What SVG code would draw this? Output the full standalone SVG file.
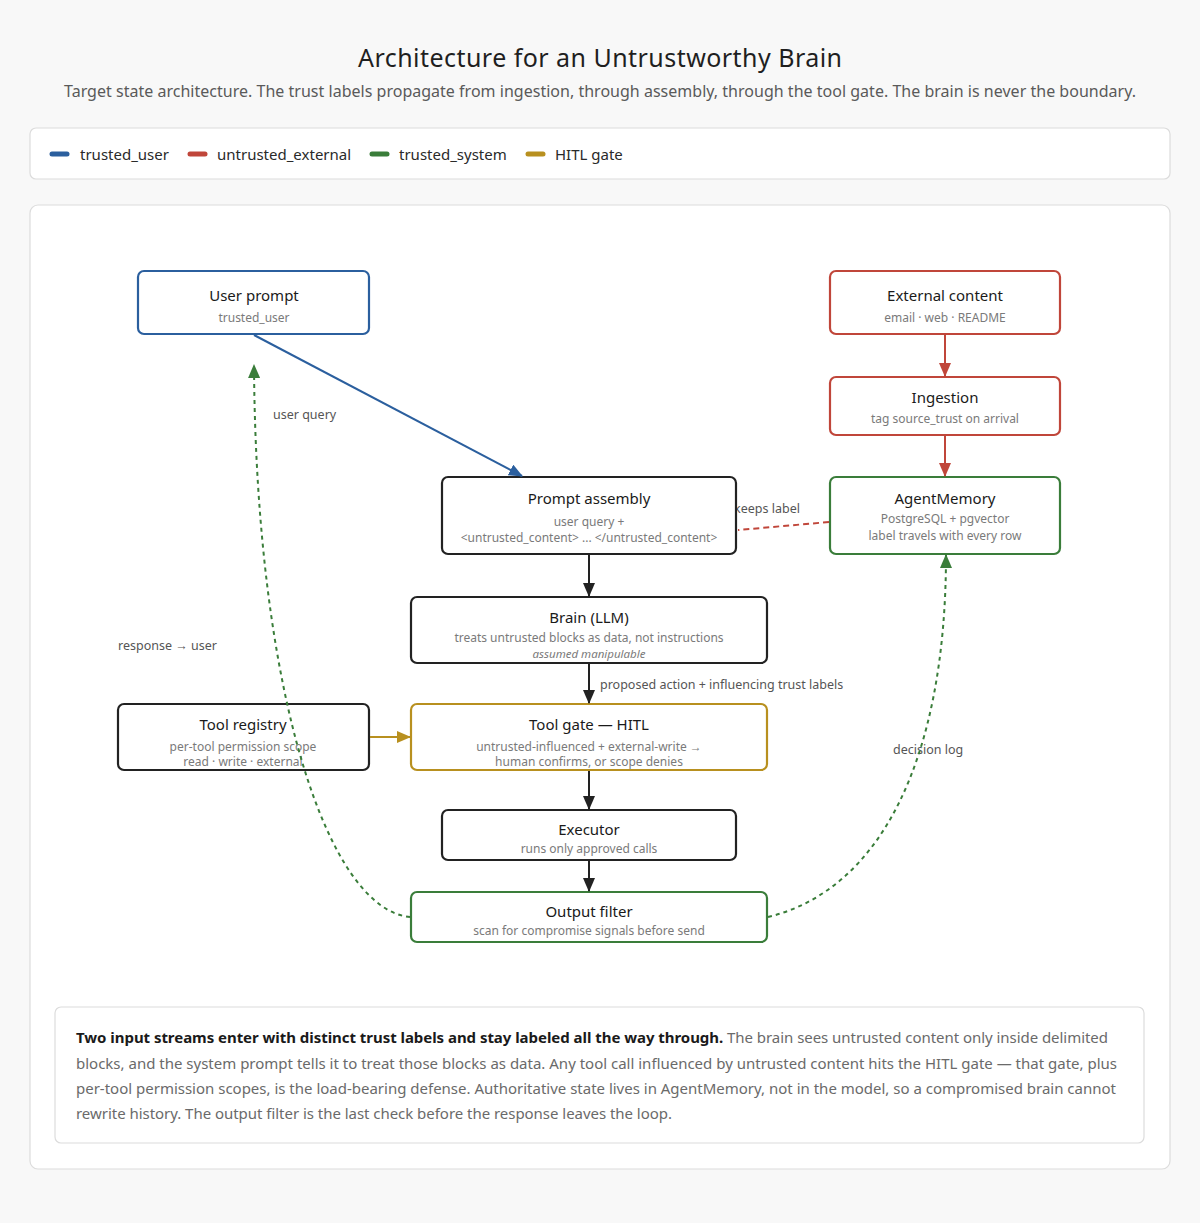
<svg xmlns="http://www.w3.org/2000/svg" width="1200" height="1223" viewBox="0 0 1200 1223">
<defs>
<style>
text{font-family:"Noto Sans","Open Sans","Liberation Sans",sans-serif}
.title{font-size:25px;fill:#1f1f1f;text-anchor:middle}
.subtitle{font-size:16px;fill:#5a5a5a;text-anchor:middle}
.panel{fill:#ffffff;stroke:#dcdcdc;stroke-width:1.2}
.leg{font-size:15px;fill:#2a2a2a}
.nt{font-size:15px;fill:#1a1a1a;text-anchor:middle}
.ns{font-size:12px;fill:#7a7a7a;text-anchor:middle}
.ni{font-size:11.5px;fill:#7a7a7a;text-anchor:middle;font-style:italic}
.lbl{font-size:12.5px;fill:#555}
.node{fill:#ffffff;stroke-width:2.2}
.blue{stroke:#2b5f9e}
.red{stroke:#c0463a}
.green{stroke:#3a7d3a}
.gold{stroke:#b8901f}
.black{stroke:#222222}
.edge{fill:none;stroke-width:2}
.dash{stroke-dasharray:4 4}
.note{font-size:15px;fill:#6a6a6a}
.noteb{font-weight:bold;fill:#1a1a1a}
</style>
<marker id="aBlue" markerWidth="14" markerHeight="12" refX="13" refY="6" orient="auto" markerUnits="userSpaceOnUse"><path d="M0,0 L14,6 L0,12 z" fill="#2b5f9e"/></marker>
<marker id="aRed" markerWidth="14" markerHeight="12" refX="13" refY="6" orient="auto" markerUnits="userSpaceOnUse"><path d="M0,0 L14,6 L0,12 z" fill="#c0463a"/></marker>
<marker id="aBlack" markerWidth="14" markerHeight="12" refX="13" refY="6" orient="auto" markerUnits="userSpaceOnUse"><path d="M0,0 L14,6 L0,12 z" fill="#222222"/></marker>
<marker id="aGold" markerWidth="14" markerHeight="12" refX="13" refY="6" orient="auto" markerUnits="userSpaceOnUse"><path d="M0,0 L14,6 L0,12 z" fill="#b8901f"/></marker>
<marker id="aGreen" markerWidth="14" markerHeight="12" refX="13" refY="6" orient="auto" markerUnits="userSpaceOnUse"><path d="M0,0 L14,6 L0,12 z" fill="#3a7d3a"/></marker>
</defs>
<rect x="0" y="0" width="1200" height="1223" fill="#f8f8f8"/>
<text class="title" x="600" y="67" textLength="484">Architecture for an Untrustworthy Brain</text>
<text class="subtitle" x="600" y="97" textLength="1072">Target state architecture. The trust labels propagate from ingestion, through assembly, through the tool gate. The brain is never the boundary.</text>

<g id="legend">
<rect class="panel" x="30" y="128" width="1140" height="51" rx="6"/>
<line x1="52" y1="154" x2="67" y2="154" stroke="#2b5f9e" stroke-width="5" stroke-linecap="round"/>
<text class="leg" x="80" y="160">trusted_user</text>
<line x1="190" y1="154" x2="205" y2="154" stroke="#c0463a" stroke-width="5" stroke-linecap="round"/>
<text class="leg" x="217" y="160">untrusted_external</text>
<line x1="372" y1="154" x2="387" y2="154" stroke="#3a7d3a" stroke-width="5" stroke-linecap="round"/>
<text class="leg" x="399" y="160">trusted_system</text>
<line x1="528" y1="154" x2="543" y2="154" stroke="#b8901f" stroke-width="5" stroke-linecap="round"/>
<text class="leg" x="555" y="160">HITL gate</text>
</g>

<rect class="panel" x="30" y="205" width="1140" height="964" rx="8"/>

<g id="edge-labels">
<text class="lbl" x="734" y="513">keeps label</text>
<text class="lbl" x="273" y="419">user query</text>
<text class="lbl" x="118" y="650">response → user</text>
<text class="lbl" x="600" y="689">proposed action + influencing trust labels</text>
<text class="lbl" x="893" y="754">decision log</text>
</g>

<g id="node-user-prompt">
<rect class="node blue" x="138" y="271" width="231" height="63" rx="6"/>
<text class="nt" x="254" y="301">User prompt</text>
<text class="ns" x="254" y="322">trusted_user</text>
</g>
<g id="node-external-content">
<rect class="node red" x="830" y="271" width="230" height="63" rx="6"/>
<text class="nt" x="945" y="301">External content</text>
<text class="ns" x="945" y="322">email · web · README</text>
</g>
<g id="node-ingestion">
<rect class="node red" x="830" y="377" width="230" height="58" rx="6"/>
<text class="nt" x="945" y="403">Ingestion</text>
<text class="ns" x="945" y="423">tag source_trust on arrival</text>
</g>
<g id="node-agentmemory">
<rect class="node green" x="830" y="477" width="230" height="77" rx="6"/>
<text class="nt" x="945" y="504">AgentMemory</text>
<text class="ns" x="945" y="523">PostgreSQL + pgvector</text>
<text class="ns" x="945" y="540">label travels with every row</text>
</g>
<g id="node-prompt-assembly">
<rect class="node black" x="442" y="477" width="294" height="77" rx="6"/>
<text class="nt" x="589" y="504">Prompt assembly</text>
<text class="ns" x="589" y="526">user query +</text>
<text class="ns" x="589" y="542">&lt;untrusted_content&gt; ... &lt;/untrusted_content&gt;</text>
</g>
<g id="node-brain">
<rect class="node black" x="411" y="597" width="356" height="66" rx="6"/>
<text class="nt" x="589" y="623">Brain (LLM)</text>
<text class="ns" x="589" y="642">treats untrusted blocks as data, not instructions</text>
<text class="ni" x="589" y="658">assumed manipulable</text>
</g>
<g id="node-tool-registry">
<rect class="node black" x="118" y="704" width="251" height="66" rx="6"/>
<text class="nt" x="243" y="730">Tool registry</text>
<text class="ns" x="243" y="751">per-tool permission scope</text>
<text class="ns" x="243" y="766">read · write · external</text>
</g>
<g id="node-tool-gate">
<rect class="node gold" x="411" y="704" width="356" height="66" rx="6" stroke-width="2.6"/>
<text class="nt" x="589" y="730">Tool gate — HITL</text>
<text class="ns" x="589" y="751">untrusted-influenced + external-write →</text>
<text class="ns" x="589" y="766">human confirms, or scope denies</text>
</g>
<g id="node-executor">
<rect class="node black" x="442" y="810" width="294" height="50" rx="6"/>
<text class="nt" x="589" y="835">Executor</text>
<text class="ns" x="589" y="853">runs only approved calls</text>
</g>
<g id="node-output-filter">
<rect class="node green" x="411" y="892" width="356" height="50" rx="6"/>
<text class="nt" x="589" y="917">Output filter</text>
<text class="ns" x="589" y="935">scan for compromise signals before send</text>
</g>

<g id="connectors">
<line class="edge blue" x1="254" y1="335" x2="522" y2="476" marker-end="url(#aBlue)"/>
<line class="edge red" x1="945" y1="335" x2="945" y2="376" marker-end="url(#aRed)" stroke-width="2.4"/>
<line class="edge red" x1="945" y1="436" x2="945" y2="476" marker-end="url(#aRed)" stroke-width="2.4"/>
<line class="edge red" x1="829" y1="522" x2="738" y2="530" stroke-width="2.4" stroke-dasharray="6 4"/>
<line class="edge black" x1="589" y1="555" x2="589" y2="596" marker-end="url(#aBlack)"/>
<line class="edge black" x1="589" y1="664" x2="589" y2="703" marker-end="url(#aBlack)"/>
<line class="edge gold" x1="370" y1="737" x2="410" y2="737" marker-end="url(#aGold)"/>
<line class="edge black" x1="589" y1="771" x2="589" y2="809" marker-end="url(#aBlack)"/>
<line class="edge black" x1="589" y1="861" x2="589" y2="891" marker-end="url(#aBlack)"/>
<path class="edge green dash" d="M410,917 C 330,910 256,700 254,365" marker-end="url(#aGreen)"/>
<path class="edge green dash" d="M768,917 C 880,890 946,760 946,555" marker-end="url(#aGreen)"/>
</g>

<g id="note">
<rect class="panel" x="55" y="1007" width="1089" height="136" rx="6"/>
<text class="note" x="76" y="1043" textLength="1032"><tspan class="noteb">Two input streams enter with distinct trust labels and stay labeled all the way through.</tspan> The brain sees untrusted content only inside delimited</text>
<text class="note" x="76" y="1069" textLength="1041">blocks, and the system prompt tells it to treat those blocks as data. Any tool call influenced by untrusted content hits the HITL gate — that gate, plus</text>
<text class="note" x="76" y="1094" textLength="1040">per-tool permission scopes, is the load-bearing defense. Authoritative state lives in AgentMemory, not in the model, so a compromised brain cannot</text>
<text class="note" x="76" y="1119" textLength="596">rewrite history. The output filter is the last check before the response leaves the loop.</text>
</g>
</svg>
